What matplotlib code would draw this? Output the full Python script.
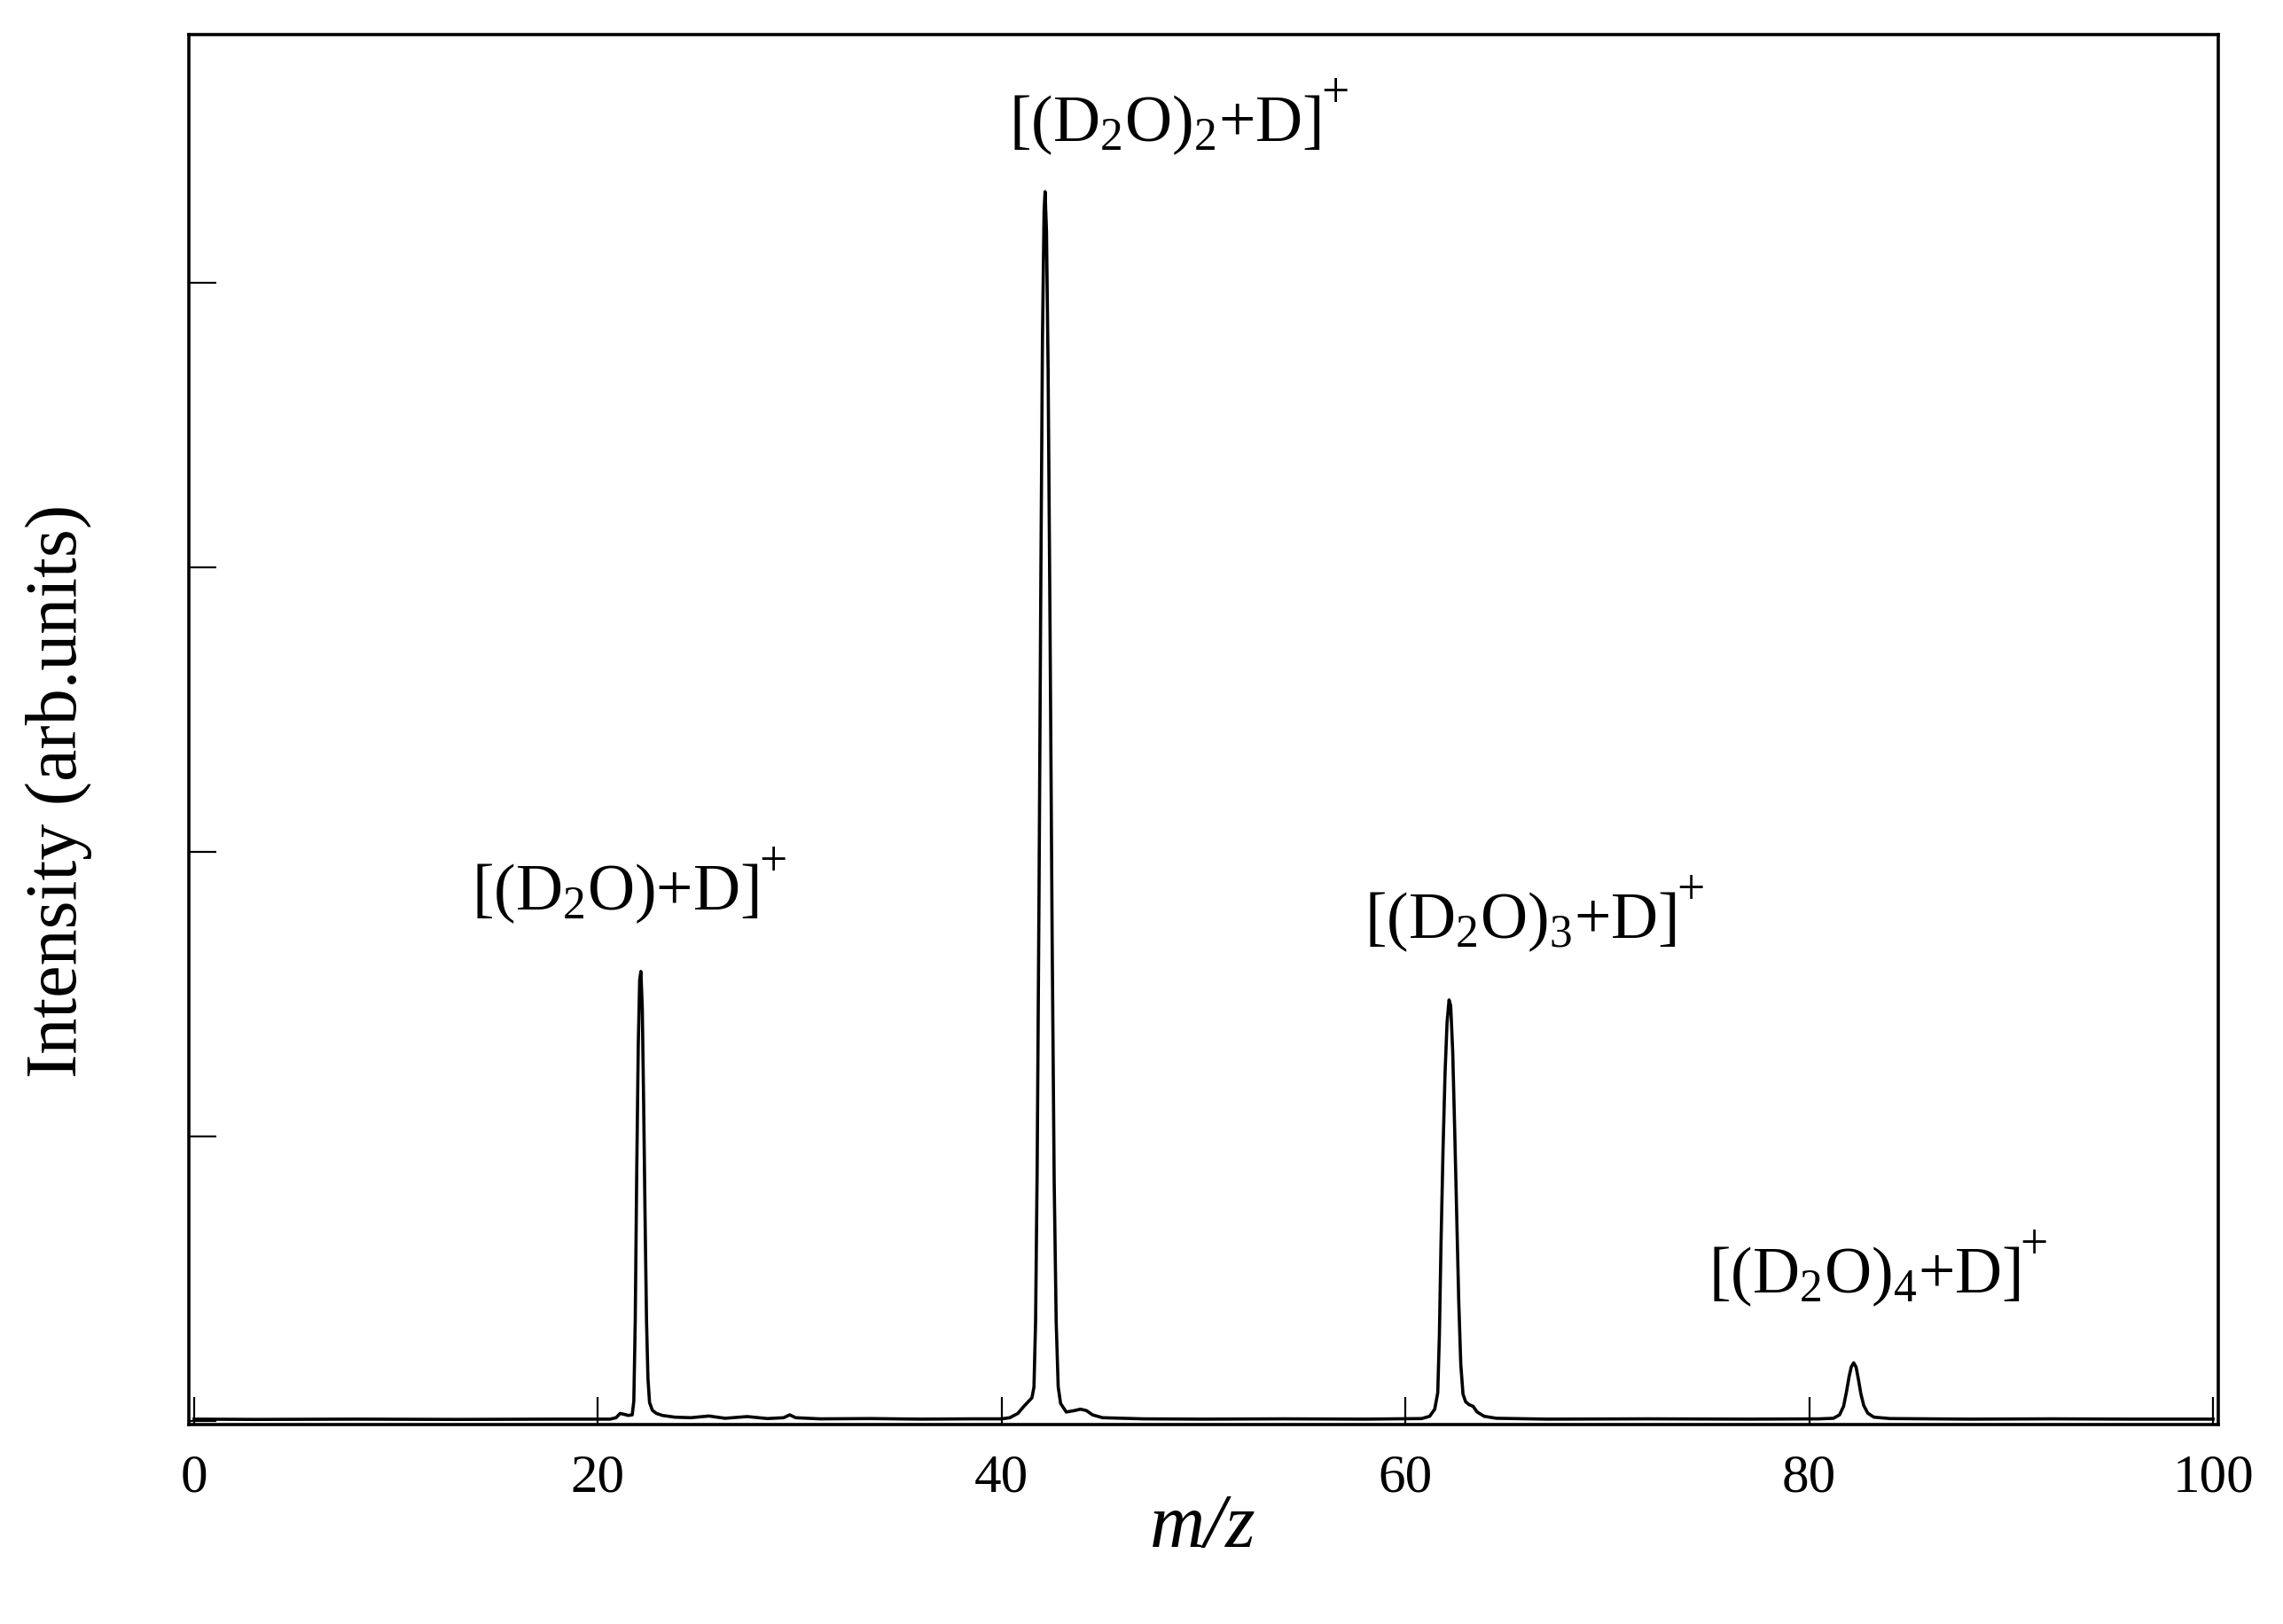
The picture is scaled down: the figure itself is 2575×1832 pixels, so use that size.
import matplotlib
matplotlib.use("Agg")
import matplotlib.pyplot as plt

plt.rcParams['font.family'] = ['Liberation Serif', 'DejaVu Serif']
plt.rcParams['mathtext.fontset'] = 'custom'
plt.rcParams['mathtext.rm'] = 'Liberation Serif'
plt.rcParams['mathtext.it'] = 'Liberation Serif:italic'
plt.rcParams['mathtext.bf'] = 'Liberation Serif:bold'

# ---- spectrum (m/z, intensity in arb. units) ----
mz = [0.0, 3.0, 8.0, 13.0, 18.0, 20.6, 20.9, 21.1, 21.3, 21.5, 21.7,
      21.78, 21.85, 21.92, 22.0, 22.07, 22.13, 22.2, 22.27, 22.34, 22.41,
      22.48, 22.56, 22.7, 22.9, 23.2, 23.8, 24.6, 25.5, 26.3, 27.4, 28.4,
      29.2, 29.5, 29.8, 31.0, 33.5, 36.0, 38.5, 40.0, 40.4, 40.8, 41.1,
      41.3, 41.5, 41.6, 41.68, 41.76, 41.85, 41.94, 42.02, 42.1, 42.15,
      42.22, 42.3, 42.4, 42.5, 42.6, 42.7, 42.8, 42.92, 43.2, 43.6, 43.9,
      44.2, 44.5, 45.0, 47.0, 50.0, 54.0, 58.0, 60.8, 61.2, 61.45, 61.6,
      61.68, 61.76, 61.86, 61.96, 62.06, 62.16, 62.24, 62.34, 62.44, 62.54,
      62.64, 62.74, 62.85, 62.98, 63.15, 63.35, 63.55, 63.9, 64.5, 67.0,
      72.0, 77.0, 80.5, 81.2, 81.5, 81.7, 81.85, 81.97, 82.08, 82.2, 82.32,
      82.44, 82.56, 82.7, 82.9, 83.2, 84.0, 88.0, 92.0, 96.0, 100.0]
intensity = [0.007, 0.006, 0.007, 0.006, 0.007, 0.007, 0.012, 0.027, 0.024,
             0.02, 0.022, 0.07, 0.35, 0.85, 1.32, 1.55, 1.58, 1.45, 1.1,
             0.7, 0.35, 0.15, 0.065, 0.038, 0.027, 0.02, 0.014, 0.012, 0.018,
             0.01, 0.016, 0.009, 0.012, 0.022, 0.012, 0.008, 0.009, 0.007,
             0.008, 0.008, 0.012, 0.027, 0.052, 0.067, 0.082, 0.12, 0.35, 0.9,
             1.85, 2.95, 3.8, 4.25, 4.32, 4.18, 3.7, 2.75, 1.7, 0.85, 0.35,
             0.12, 0.062, 0.032, 0.037, 0.042, 0.037, 0.022, 0.012, 0.008,
             0.007, 0.008, 0.007, 0.009, 0.017, 0.042, 0.1, 0.3, 0.62, 0.95,
             1.22, 1.4, 1.48, 1.46, 1.3, 1.02, 0.72, 0.42, 0.2, 0.095, 0.068,
             0.058, 0.052, 0.032, 0.017, 0.01, 0.007, 0.008, 0.007, 0.008,
             0.01, 0.022, 0.052, 0.105, 0.155, 0.19, 0.205, 0.19, 0.145,
             0.095, 0.055, 0.028, 0.014, 0.009, 0.007, 0.008, 0.007, 0.007]

# peak labels and their anchor (left, baseline) in data units
peak_labels = [r'$[(\mathrm{D}_2\mathrm{O}){+}\mathrm{D}]$',
               r'$[(\mathrm{D}_2\mathrm{O})_2{+}\mathrm{D}]$',
               r'$[(\mathrm{D}_2\mathrm{O})_3{+}\mathrm{D}]$',
               r'$[(\mathrm{D}_2\mathrm{O})_4{+}\mathrm{D}]$']
charge = '+'
label_x = [13.75, 40.36, 57.97, 75.0]
label_y = [1.80, 4.50, 1.70, 0.455]

x_ticks = [0, 20, 40, 60, 80, 100]
y_ticks = [0, 1, 2, 3, 4]

W, H = 2575, 1833
fig = plt.figure(figsize=(W / 100, H / 100), dpi=100)
ax = fig.add_axes([213 / W, 1 - 1608 / H, (2502 - 213) / W, (1608 - 40) / H])

ax.plot(mz, intensity, color='black', lw=2.6, solid_joinstyle='round')

for t, x, y in zip(peak_labels, label_x, label_y):
    main = ax.text(x, y, t, fontsize=53, ha='left', va='baseline')
    ax.annotate(charge, xy=(1.0, 1.0), xycoords=main,
                xytext=(0, -1), textcoords='offset points',
                fontsize=40, ha='left', va='center')

ax.set_xlim(-0.26, 100.26)
ax.set_ylim(-0.012, 4.872)
ax.set_xticks(x_ticks)
ax.set_xticklabels([str(v) for v in x_ticks])
ax.set_yticks(y_ticks)
ax.set_yticklabels([])
ax.tick_params(axis='both', direction='in', length=22, width=1.6,
               top=False, right=False)
ax.tick_params(axis='x', labelsize=44, pad=23)
for s in ax.spines.values():
    s.set_linewidth(2.6)

fig.text(1357 / W, 1 - 1745 / H, 'm/z', fontsize=62, style='italic',
         ha='center', va='baseline')
fig.text(28 / W, 1 - 892 / H, 'Intensity (arb.units)', fontsize=59,
         rotation=90, ha='left', va='center')

fig.savefig('out.png', dpi=100)
